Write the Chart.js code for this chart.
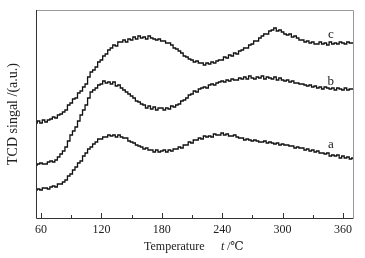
<!DOCTYPE html>
<html><head><meta charset="utf-8">
<script src="https://cdn.jsdelivr.net/npm/chart.js@4"></script>
<style>html,body{margin:0;padding:0;background:#fff}#w{width:365px;height:258px}</style>
</head><body><div id="w"><canvas id="c" width="365" height="258"></canvas></div>
<script>
const temperatures = [55,57.5,60,62.5,65,67.5,70,72.5,75,77.5,80,82.5,85,87.5,90,92.5,95,97.5,100,102.5,105,107.5,110,112.5,115,117.5,120,122.5,125,127.5,130,132.5,135,137.5,140,142.5,145,147.5,150,152.5,155,157.5,160,162.5,165,167.5,170,172.5,175,177.5,180,182.5,185,187.5,190,192.5,195,197.5,200,202.5,205,207.5,210,212.5,215,217.5,220,222.5,225,227.5,230,232.5,235,237.5,240,242.5,245,247.5,250,252.5,255,257.5,260,262.5,265,267.5,270,272.5,275,277.5,280,282.5,285,287.5,290,292.5,295,297.5,300,302.5,305,307.5,310,312.5,315,317.5,320,322.5,325,327.5,330,332.5,335,337.5,340,342.5,345,347.5,350,352.5,355,357.5,360,362.5,365,367.5,370];
const seriesC = [95,97,95,98,96,98,99,101,100,103,104,106,108,113,115,119,120,125,127,131,134,141,146,148,151,156,158,162,164,168,170,173,172,176,176,178,176,179,178,181,179,182,180,181,179,182,180,179,178,179,177,177,175,175,173,170,169,167,165,162,161,159,158,156,157,155,155,153,155,154,156,155,157,158,158,161,160,163,162,165,164,167,168,170,170,173,174,177,177,180,182,184,184,187,188,190,187,188,186,184,183,184,181,182,180,178,178,176,177,175,176,174,174,176,174,175,173,176,174,175,174,176,175,174,176,175,175];
const seriesB = [53,54,55,54,54,56,57,56,58,61,64,67,71,77,83,87,91,97,103,108,113,120,126,128,130,133,134,137,135,136,134,136,132,133,130,128,126,124,122,120,117,116,114,113,110,112,109,111,108,110,110,108,110,109,112,111,113,114,117,118,120,123,124,127,126,129,130,131,130,133,134,133,135,136,137,136,138,137,139,138,138,140,139,141,139,142,140,139,141,140,142,139,141,140,139,141,138,140,138,137,138,136,137,135,135,134,134,133,132,133,131,132,130,131,129,131,130,129,130,128,130,129,128,130,128,129,129];
const seriesA = [28,29,28,30,30,29,31,32,31,34,34,36,38,42,44,48,51,55,57,62,65,69,71,74,76,79,79,81,81,83,82,83,81,83,81,80,80,77,76,75,73,72,71,69,70,68,68,66,68,66,67,68,66,68,67,69,69,71,70,73,73,76,75,78,78,80,79,82,81,82,81,84,83,83,85,83,84,82,82,83,81,80,80,78,79,78,77,78,77,76,76,77,75,76,75,74,75,73,74,73,73,72,72,70,71,70,70,68,69,67,68,66,67,65,65,64,65,62,63,62,63,60,62,60,61,59,60];
const xTicks = [60,120,180,240,300,360];
const minorTicks = [90,150,210,270,330];
const curveLabels = ["a","b","c"];

const FONT = "'Liberation Serif', 'DejaVu Serif', serif";

const deco = {
  id: 'deco',
  afterDatasetsDraw(chart) {
    const {ctx, chartArea: a, scales: {x, y}} = chart;
    ctx.save();
    ctx.lineWidth = 1;
    ctx.strokeStyle = '#999';
    ctx.beginPath();
    ctx.moveTo(a.left, a.top + 0.5); ctx.lineTo(a.right + 0.5, a.top + 0.5); ctx.lineTo(a.right + 0.5, a.bottom);
    ctx.stroke();
    ctx.strokeStyle = '#333';
    ctx.beginPath();
    ctx.moveTo(a.left + 0.5, a.top); ctx.lineTo(a.left + 0.5, a.bottom + 0.5); ctx.lineTo(a.right + 0.5, a.bottom + 0.5);
    ctx.stroke();
    ctx.beginPath();
    xTicks.forEach(v => { const px = Math.round(x.getPixelForValue(v)) + 0.5; ctx.moveTo(px, a.bottom); ctx.lineTo(px, a.bottom - 5); });
    minorTicks.forEach(v => { const px = Math.round(x.getPixelForValue(v)) + 0.5; ctx.moveTo(px, a.bottom); ctx.lineTo(px, a.bottom - 3); });
    ctx.stroke();
    ctx.fillStyle = '#222';
    ctx.font = '13px ' + FONT;
    ctx.textAlign = 'center';
    ctx.textBaseline = 'middle';
    const lp = [[curveLabels[0], 348, 73], [curveLabels[1], 348, 136], [curveLabels[2], 348, 183]];
    lp.forEach(([t, tx, ty]) => ctx.fillText(t, x.getPixelForValue(tx), y.getPixelForValue(ty)));
    ctx.save();
    ctx.translate(13, 114);
    ctx.rotate(-Math.PI / 2);
    ctx.font = '14px ' + FONT;
    ctx.fillText('TCD singal /(a.u.)', 0, 0);
    ctx.restore();
    ctx.textAlign = 'left';
    ctx.font = '12px ' + FONT;
    ctx.fillText('Temperature', 144, 247);
    ctx.font = 'italic 12px ' + FONT;
    ctx.fillText('t', 221, 247);
    ctx.font = '12px ' + FONT;
    ctx.fillText(' /\u2103', 224, 247);
    ctx.restore();
  }
};

const ds = (d) => ({data: d, borderColor: '#111', borderWidth: 1.3, pointRadius: 0, stepped: 'middle', fill: false});

new Chart(document.getElementById('c'), {
  type: 'line',
  data: {
    labels: temperatures,
    datasets: [ds(temperatures.map((t, i) => ({x: t, y: seriesA[i]}))),
               ds(temperatures.map((t, i) => ({x: t, y: seriesB[i]}))),
               ds(temperatures.map((t, i) => ({x: t, y: seriesC[i]})))]
  },
  options: {
    responsive: false, animation: false,
    layout: {padding: {left: 36, right: 12, top: 10, bottom: 0}},
    plugins: {legend: {display: false}, tooltip: {enabled: false}},
    scales: {
      x: {
        type: 'linear', min: 55, max: 370,
        afterBuildTicks: (s) => { s.ticks = xTicks.map(v => ({value: v})); },
        afterFit: (s) => { s.height = 40; },
        grid: {display: false, drawTicks: false},
        border: {display: false},
        ticks: {padding: 5, color: '#222', font: {family: FONT, size: 12}, maxRotation: 0}
      },
      y: {display: false, min: 0, max: 208}
    }
  },
  plugins: [deco]
});
</script></body></html>
